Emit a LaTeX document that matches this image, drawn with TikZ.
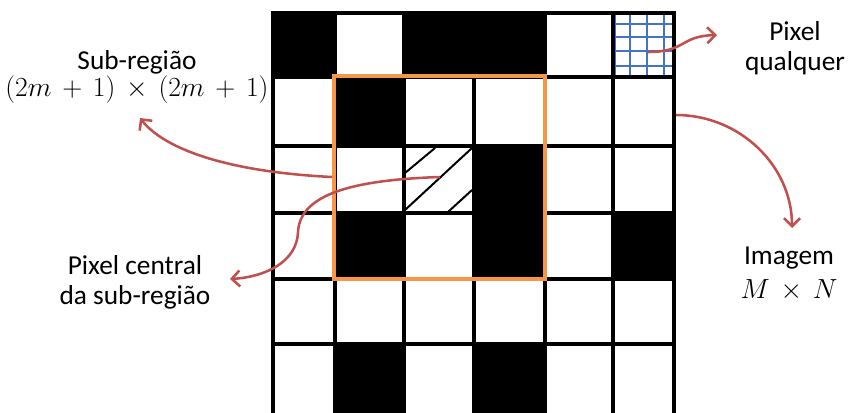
\documentclass[tikz,border=0pt]{standalone}
\usepackage{fontspec}
\setmainfont{Carlito}
\usetikzlibrary{arrows.meta}
\definecolor{winorange}{HTML}{F79646}
\definecolor{gridblue}{HTML}{4472C4}
\definecolor{pointred}{HTML}{C0504D}
\newcommand\lblfont{\fontsize{20.5}{22.5}\selectfont\lineskiplimit=-20pt\medmuskip=7mu\relax}
\tikzset{
  cellline/.style={line width=2.4pt},
  borderline/.style={line width=3pt},
  blackcell/.style={fill=black},
  hatch/.style={line width=1.5pt, line cap=round},
  finegrid/.style={draw=gridblue, line width=1.1pt},
  window/.style={draw=winorange, line width=3pt},
  pointer/.style={draw=pointred, line width=1.9pt, -{Straight Barb[length=6pt,width=12pt]}},
  lbl/.style={align=center, inner sep=0pt, font=\lblfont}
}

\begin{document}
\begin{tikzpicture}[x=0.75pt,y=-0.75pt]
  \useasboundingbox (0,0) rectangle (848,412);
  \clip (0,0) rectangle (848,412);
  % cells
  \foreach \xa/\ya/\xb/\yb in {273/13/335/77, 404/13/545/77, 335/77/404/146,
      474/146/545/279, 335/213/404/279, 613/213/674/279, 335/344/404/420, 474/344/545/420}
    \fill[blackcell] (\xa,\ya) rectangle (\xb,\yb);
  % pixel qualquer
  \foreach \x in {615,630,647,664}
    \draw[finegrid] (\x,14) -- (\x,75);
  \foreach \y in {24,37,51,66}
    \draw[finegrid] (613,\y) -- (673,\y);
  % central pixel
  \draw[hatch] (405,173) -- (435,148);
  \draw[hatch] (405,210) -- (472,148);
  \draw[hatch] (448,212) -- (472,190);
  % grid
  \foreach \x in {335,404,474,545,613}
    \draw[cellline] (\x,13) -- (\x,420);
  \foreach \y in {77,146,213,279,344}
    \draw[cellline] (273,\y) -- (674,\y);
  \draw[borderline] (273,420) -- (273,13) -- (674,13) -- (674,420);
  % sub-region
  \draw[window] (334,76) rectangle (545,279);

  \node[lbl] (subreg) at (137,77) {Sub-região\\[-2pt]$(2m+1)\times(2m+1)$};
  \node[lbl] (central) at (135,282) {Pixel central\\da sub-região};
  \node[lbl] (qualquer) at (795,48) {Pixel\\qualquer};
  \node[lbl] (imagem) at (789,274) {Imagem\\[2.5pt]$M\times N$};

  \coordinate (subfrom) at (332,177);
  \coordinate (subto) at (140,118);
  \coordinate (centralfrom) at (440,177);
  \coordinate (centralbend) at (298,232);
  \coordinate (centralto) at (230,279);
  \coordinate (pixfrom) at (648,52);
  \coordinate (pixto) at (717,35);
  \coordinate (imgfrom) at (676,115);
  \coordinate (imgto) at (792,228);

  \draw[pointer] (subfrom) .. controls +(-102,-5) and +(25,32) .. (subto);
  \draw[pointer] (centralfrom) .. controls +(-90,3) and +(2,-37) .. (centralbend)
    .. controls +(-1,30) and +(35,-2) .. (centralto);
  \draw[pointer] (pixfrom) .. controls +(38,0) and +(-37,1) .. (pixto);
  \draw[pointer] (imgfrom) .. controls +(64,0) and +(0,-62) .. (imgto);
\end{tikzpicture}
\end{document}
